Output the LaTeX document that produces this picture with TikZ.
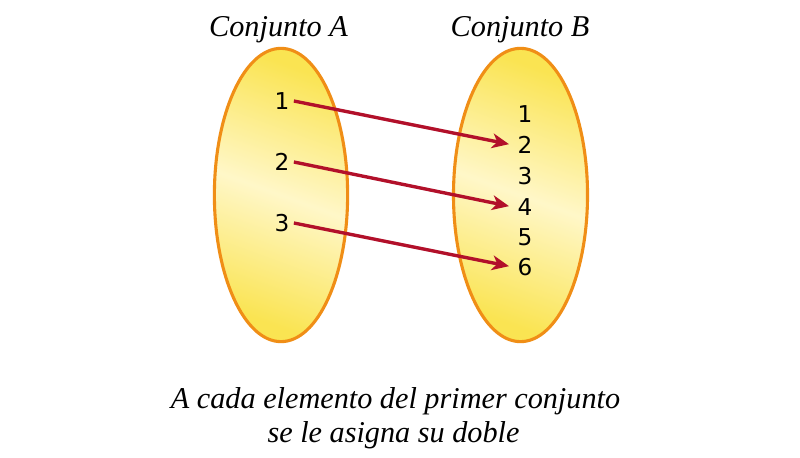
\documentclass[tikz,border=0pt]{standalone}
\usepackage{fontspec}
\setmainfont{Liberation Serif}
\newfontfamily\numfont{DejaVu Sans}
\usetikzlibrary{shapes.geometric,arrows.meta}

\definecolor{conjborde}{RGB}{240,142,22}
\definecolor{conjamar}{RGB}{250,228,82}
\definecolor{conjclaro}{RGB}{255,247,200}
\definecolor{flecha}{RGB}{178,16,42}

\tikzset{
  conj/.style={ellipse, draw=conjborde, line width=2.2pt, inner sep=0pt,
    top color=conjamar, bottom color=conjamar, middle color=conjclaro,
    shading angle=-20},
  num/.style={font=\numfont\fontsize{16.5}{16.5}\selectfont, inner sep=3pt},
  titulo/.style={font=\itshape\fontsize{21.5}{21.5}\selectfont, anchor=base, inner sep=0pt},
  asigna/.style={-{Stealth[length=12pt,width=10.5pt,inset=3.5pt]}, draw=flecha,
    line width=2.4pt, shorten >=3pt}
}

\begin{document}
\begin{tikzpicture}[x=0.025cm,y=-0.025cm]
\useasboundingbox[fill=white] (0,0) rectangle (800,458);

% conjuntos
\node[conj, minimum width=3.33cm, minimum height=7.33cm] (conjA) at (281,195) {};
\node[conj, minimum width=3.35cm, minimum height=7.33cm] (conjB) at (520.5,195) {};
\node[titulo] (titA) at (278.5,37) {Conjunto A};
\node[titulo] (titB) at (520,37) {Conjunto B};

% elementos
\node[num] (a1) at (282,101) {1};
\node[num] (a2) at (282,162) {2};
\node[num] (a3) at (282,223) {3};
\foreach \i/\y in {1/114,2/145,3/176,4/207,5/237,6/267}
  \node[num] (b\i) at (525,\y) {\i};

% doble
\draw[asigna] (a1.east) -- (b2.west);
\draw[asigna] (a2.east) -- (b4.west);
\draw[asigna] (a3.east) -- (b6.west);

\node[titulo] (pie1) at (395.5,408) {A cada elemento del primer conjunto};
\node[titulo] (pie2) at (393.5,442) {se le asigna su doble};
\end{tikzpicture}
\end{document}
